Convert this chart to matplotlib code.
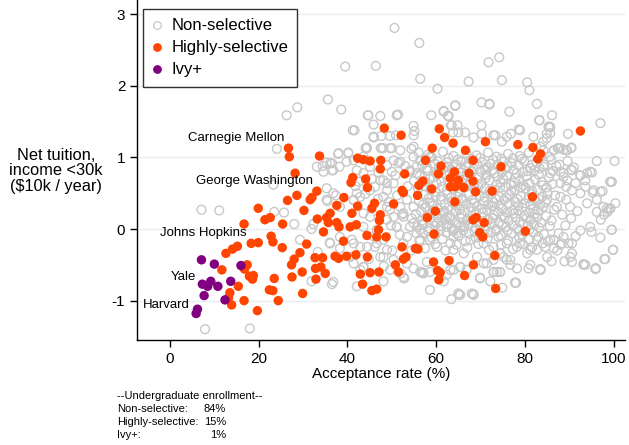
import matplotlib
matplotlib.use("Agg")
import matplotlib.pyplot as plt
from matplotlib.lines import Line2D

plt.rcParams['font.family'] = ['Liberation Sans', 'DejaVu Sans']
plt.rcParams['axes.unicode_minus'] = False

# acceptance rate (%), net tuition for income <30k ($10k/year)
ivy_rate = [7.1, 10.0, 16.0, 7.3, 9.2, 8.5, 10.8, 13.7, 7.7, 12.4, 6.2, 5.9]
ivy_tuition = [-0.43, -0.49, -0.51, -0.77, -0.73, -0.80, -0.80, -0.73, -0.93, -0.99, -1.12, -1.18]

highly_selective = [
    (26.7, 1.13), (26.9, 1.01), (33.7, 1.02), (28.2, 0.78), (33.1, 0.53), (32.0, 0.44),
    (31.6, 0.41), (28.6, 0.47), (26.5, 0.40), (39.2, 0.44), (37.6, 0.33), (19.9, 0.29),
    (21.4, 0.13), (22.6, 0.16), (16.7, 0.07), (25.4, 0.07), (30.2, 0.26), (33.2, 0.14),
    (36.1, 0.22), (35.3, 0.16), (35.7, 0.09), (37.6, 0.09), (38.1, 0.03), (34.6, -0.04),
    (22.8, -0.10), (23.2, -0.18), (18.3, -0.20), (19.9, -0.19), (25.3, -0.26), (30.8, -0.21),
    (29.3, -0.33), (39.1, -0.17), (15.2, -0.24), (14.1, -0.28), (12.6, -0.34), (11.7, -0.57),
    (17.4, -0.50), (16.8, -0.56), (17.9, -0.66), (18.8, -0.65), (18.6, -0.70), (15.4, -0.80),
    (13.5, -0.89), (13.2, -0.96), (13.9, -1.06), (16.7, -1.00), (19.7, -1.14), (22.4, -0.85),
    (23.2, -0.86), (24.4, -1.00), (23.5, -0.69), (27.5, -0.67), (28.0, -0.42), (27.4, -0.50),
    (29.8, -0.60), (29.9, -0.90), (32.7, -0.40), (34.4, -0.40), (32.8, -0.55), (34.0, -0.53),
    (35.0, -0.62), (32.9, -0.70), (37.2, -0.38), (38.0, -0.41), (39.8, -0.38),
    (48.3, 1.41), (52.1, 1.31), (60.7, 1.40), (61.9, 1.28), (63.8, 1.20), (66.6, 1.10),
    (68.3, 0.96), (71.1, 1.22), (78.4, 1.18), (81.8, 1.14), (83.5, 1.05), (82.9, 0.98),
    (92.5, 1.37), (74.6, 0.87), (72.6, 0.53), (81.7, 0.45), (57.6, 0.96), (59.1, 1.13),
    (61.1, 0.88), (60.5, 0.77), (57.0, 0.67), (56.1, 0.61), (59.0, 0.56), (55.8, 0.47),
    (52.9, 0.77), (52.3, 0.54), (52.6, 0.51), (50.4, 0.35), (47.5, 0.96), (47.4, 0.84),
    (44.1, 0.70), (44.5, 0.58), (42.3, 0.99), (43.6, 0.97), (45.1, 0.95), (41.2, 0.72),
    (40.8, 0.65), (46.1, 0.36), (45.5, 0.29), (42.3, 0.32), (41.0, 0.22), (47.4, 0.20),
    (47.2, 0.12), (47.0, -0.01), (48.7, -0.11), (46.6, -0.11), (44.4, -0.09), (42.0, 0.06),
    (40.6, 0.03), (63.2, 0.71), (64.1, 0.80), (65.0, 0.68), (66.2, 0.58), (64.3, 0.59),
    (63.2, 0.59), (67.4, 0.78), (68.3, 0.67), (68.9, 0.52), (64.2, 0.38), (59.8, 0.25),
    (58.0, 0.16), (68.3, 0.13), (69.0, 0.16), (70.8, 0.09), (69.8, -0.05), (70.5, -0.11),
    (80.1, -0.03), (59.5, -0.07), (52.3, -0.25), (55.3, -0.27), (55.9, -0.28), (53.2, -0.39),
    (52.6, -0.42), (41.9, -0.36), (44.5, -0.39), (59.4, -0.46), (62.9, -0.44), (60.3, -0.58),
    (60.9, -0.61), (60.6, -0.71), (66.4, -0.65), (68.4, -0.50), (73.2, -0.37), (73.4, -0.83),
    (50.8, -0.50), (51.5, -0.60), (42.9, -0.63), (45.1, -0.61), (47.1, -0.60), (43.4, -0.77),
    (45.5, -0.86), (46.6, -0.84),
]

non_selective = [
    # sparse outer points
    (50.6, 2.81), (56.2, 2.60), (39.5, 2.27), (46.4, 2.28), (56.4, 2.10), (71.8, 2.33),
    (74.2, 2.40), (74.8, 2.08), (67.3, 2.06), (80.5, 2.05), (81.0, 1.94), (60.3, 1.96),
    (35.6, 1.81), (28.7, 1.70), (26.3, 1.59), (38.6, 1.67), (70.2, 1.77), (72.0, 1.74),
    (64.3, 1.72), (82.7, 1.75), (76.5, 1.64), (61.7, 1.65), (62.8, 1.58), (58.9, 1.59),
    (51.1, 1.59), (47.4, 1.58), (44.6, 1.59), (86.1, 1.59), (97.0, 1.48), (83.2, 1.52),
    (70.2, 1.45), (63.3, 1.45), (64.8, 1.45), (45.9, 1.46), (41.6, 1.38), (54.9, 1.44),
    (55.1, 1.37), (78.6, 1.39), (76.8, 1.33), (85.7, 1.42), (89.7, 1.33), (84.9, 1.33),
    (73.3, 1.31), (45.9, 1.29), (47.6, 1.30), (50.9, 1.31), (24.1, 1.12), (37.9, 1.05),
    (40.2, 1.06), (44.1, 1.13), (47.9, 1.13), (49.6, 1.13), (54.4, 1.12), (34.4, 0.88),
    (36.1, 0.92), (38.2, 0.87), (33.1, 0.87), (36.5, 0.82), (34.6, 0.80), (23.3, 0.62),
    (35.3, 0.57), (37.4, 0.47), (35.5, 0.39), (7.1, 0.27), (11.1, 0.26), (23.5, 0.24),
    (25.7, 0.23), (28.0, 0.07), (31.9, 0.00), (32.3, 0.07), (29.3, -0.15), (33.3, -0.32),
    (31.9, -0.73), (36.5, -0.77), (36.0, -0.19), (38.3, -0.27), (38.3, -0.11), (7.9, -1.40),
    (18.0, -1.39), (63.4, -0.98), (65.2, -0.92), (68.4, -0.92), (69.9, -0.68), (73.0, -0.60),
    (74.4, -0.60), (78.0, -0.75), (74.9, -0.82), (83.5, -0.56), (96.0, -0.55), (93.2, -0.49),
    (90.6, -0.46), (98.1, -0.42), (99.8, -0.29), (99.5, -0.01), (97.0, -0.12), (99.3, 0.66),
    (100.2, 0.95), (96.2, 0.95), (100.4, 0.36), (99.3, 0.29), (97.5, 0.53), (95.3, 0.51),
    (95.1, 0.79), (94.0, 0.78), (92.5, 0.75), (90.4, 0.83), (88.7, 0.78), (87.4, 1.13),
    (88.7, 1.11), (90.4, 1.13), (52.8, -0.69), (52.0, -0.62), (57.1, -0.61),
    # right-hand side of the cloud
    (85.3, 1.43), (85.7, 1.34), (84.9, 1.27), (84.1, 1.22), (83.5, 1.15), (84.2, 1.10),
    (86.5, 1.10), (88.0, 1.13), (89.3, 1.10), (90.5, 1.14), (85.6, 1.01), (84.2, 0.87),
    (85.7, 0.78), (88.0, 0.80), (90.6, 0.82), (88.7, 0.73), (89.5, 0.68), (88.0, 0.64),
    (89.3, 0.59), (90.6, 0.54), (92.5, 0.75), (94.7, 0.80), (93.6, 0.68), (91.4, 0.64),
    (92.5, 0.50), (93.6, 0.59), (95.5, 0.54), (97.0, 0.52), (97.7, 0.31), (99.6, 0.66),
    (94.0, 0.36), (96.2, 0.41), (98.5, 0.29), (98.9, 0.27), (96.2, 0.24), (88.0, 0.45),
    (89.3, 0.41), (90.2, 0.31), (87.2, 0.31), (85.0, 0.41), (85.1, 0.50), (99.6, -0.01),
    (97.1, 0.13), (97.8, 0.20), (98.6, 0.24), (94.7, 0.03), (95.0, -0.04), (92.5, -0.02),
    (91.4, -0.10), (90.6, -0.20), (90.6, -0.34), (93.6, -0.50), (95.9, -0.56), (97.9, -0.42),
    (99.9, -0.29), (88.0, -0.22), (89.8, -0.20), (88.7, -0.11), (87.6, -0.06), (85.7, -0.15),
    (86.5, -0.27), (85.0, -0.39), (83.5, -0.57), (81.2, -0.50), (80.8, -0.55), (77.8, -0.75),
    (74.4, -0.60), (72.9, -0.60), (69.9, -0.69), (68.4, -0.91), (65.4, -0.92), (76.7, -0.50),
    (75.2, -0.39), (74.4, -0.34), (72.9, -0.43), (71.4, -0.48), (80.5, -0.34), (82.7, -0.29),
    (78.9, -0.20),
    # upper and lower edges of the cloud
    (44.7, 1.59), (51.4, 1.60), (61.7, 1.64), (62.6, 1.58), (64.3, 1.73), (72.0, 1.75),
    (83.3, 1.52), (85.6, 1.43), (41.2, 1.38), (63.5, 1.45), (54.9, 1.31), (63.8, 1.35),
    (65.0, 1.35), (66.5, 1.35), (68.4, 1.28), (70.3, 1.33), (72.9, 1.31), (74.8, 1.22),
    (75.9, 1.29), (78.9, 1.38), (81.9, 1.29), (87.7, 1.13), (89.5, 1.10), (86.5, 1.10),
    (99.2, 0.66), (44.4, 1.13), (48.0, 1.13), (50.0, 1.13), (51.9, 1.10), (54.9, 1.15),
    (45.9, 1.28), (49.6, 1.30), (43.6, 1.01), (50.4, 0.96), (51.5, 0.92), (54.9, 1.01),
    (55.6, 0.87), (54.1, 0.80), (50.8, 0.75), (48.1, 0.68), (48.9, 0.64), (46.2, 0.59),
    (42.1, 0.50), (41.4, 0.40), (48.1, 0.45), (49.6, 0.27), (51.9, 0.31), (52.3, 0.20),
    (54.5, 0.15), (51.1, 0.03), (54.1, 0.03), (55.6, -0.06), (57.1, 0.06), (59.0, 0.36),
    (61.7, 0.22), (62.4, 0.03), (64.7, -0.06), (66.2, 0.03), (58.6, -0.15), (60.2, -0.25),
    (63.2, -0.20), (63.9, -0.29), (66.2, -0.34), (67.7, -0.15), (70.7, -0.20), (72.9, -0.25),
    (75.9, -0.20), (75.9, -0.43), (74.4, -0.34), (78.2, -0.25), (81.2, -0.29), (82.7, -0.15),
    (84.6, -0.25), (86.5, -0.15), (88.3, -0.20), (90.2, -0.39), (93.2, -0.50), (95.9, -0.55),
    (83.5, -0.57), (78.2, -0.55), (76.7, -0.43), (70.7, -0.48), (69.2, -0.39), (65.4, -0.53),
    (63.2, -0.57), (57.9, -0.46), (56.8, -0.60), (52.6, -0.67), (49.6, -0.57), (48.1, -0.39),
    (46.2, -0.25), (42.9, -0.25), (41.0, -0.15), (40.6, -0.39), (43.6, -0.53), (42.1, -0.80),
    (48.1, -0.73), (58.6, -0.85), (61.7, -0.73), (65.0, -0.90), (68.0, -0.90), (72.2, -0.73),
    (73.7, -0.60), (77.8, -0.75),
    # left part of the cloud
    (38.0, 1.06), (40.2, 1.07), (44.3, 1.14), (47.5, 1.13), (56.0, 1.07), (35.3, 0.93),
    (36.8, 0.82), (36.5, 0.92), (42.1, 0.82), (43.6, 0.78), (39.8, 0.94), (41.4, 0.96),
    (45.1, 0.87), (48.9, 0.89), (50.0, 0.80), (51.9, 0.94), (56.4, 0.96), (58.6, 1.01),
    (54.1, 0.82), (55.6, 0.78), (57.9, 0.82), (60.2, 0.78), (62.4, 0.87), (50.4, 0.64),
    (47.4, 0.68), (48.9, 0.54), (45.1, 0.54), (42.9, 0.45), (41.4, 0.41), (35.3, 0.41),
    (36.8, 0.50), (38.3, 0.31), (53.4, 0.41), (54.9, 0.31), (48.9, 0.31), (43.6, 0.22),
    (45.1, 0.17), (50.4, 0.17), (52.6, 0.22), (36.1, -0.20), (41.4, -0.20), (44.4, -0.25),
    (46.6, -0.20), (48.9, -0.29), (47.4, -0.39), (50.4, -0.43), (53.4, -0.48), (54.9, -0.55),
    (56.4, -0.60), (58.6, -0.60), (62.4, -0.64), (63.9, -0.57), (65.4, -0.53), (66.9, -0.57),
    (57.1, -0.62), (41.4, -0.48), (43.6, -0.53), (42.9, -0.57), (36.8, -0.74), (48.9, 0.13),
    (51.1, 0.03), (52.6, 0.17), (54.9, 0.08), (56.4, -0.01), (60.2, 0.08), (62.4, 0.17),
    (63.9, -0.01), (65.4, 0.03), (53.4, -0.11), (56.4, -0.15), (46.6, -0.01), (43.6, 0.03),
    (48.1, -0.15), (52.6, -0.20), (41.8, 0.60), (44.0, 0.49), (46.9, 0.42), (49.3, 0.38),
    (51.2, 0.47), (53.6, 0.60), (55.0, 0.67), (53.0, 0.88), (47.0, 0.79), (45.5, 0.70),
    (42.5, 0.66), (49.8, 0.05), (51.8, -0.08), (45.9, -0.10), (50.1, -0.30), (54.4, -0.30),
    (44.8, -0.42), (48.2, -0.52),
    # dense core
    (58.2, 1.04), (61.5, 1.08), (63.9, 1.02), (66.8, 1.06), (69.1, 1.03), (71.7, 1.07),
    (73.6, 1.01), (76.2, 1.05), (78.8, 1.02), (80.9, 1.07), (83.7, 1.03), (57.6, 0.97),
    (60.3, 0.95), (62.8, 0.99), (65.7, 0.94), (67.9, 0.98), (70.4, 0.93), (72.8, 0.97),
    (75.1, 0.94), (77.3, 0.99), (79.8, 0.95), (82.6, 0.93), (85.9, 0.97), (56.8, 0.89),
    (59.7, 0.91), (61.9, 0.86), (64.6, 0.90), (66.7, 0.87), (69.2, 0.91), (71.3, 0.86),
    (73.9, 0.90), (76.1, 0.87), (78.6, 0.89), (81.2, 0.85), (84.4, 0.90), (87.1, 0.88),
    (58.1, 0.82), (60.8, 0.80), (63.4, 0.83), (65.8, 0.79), (68.4, 0.84), (70.1, 0.80),
    (72.6, 0.82), (74.8, 0.79), (77.4, 0.83), (79.6, 0.80), (82.1, 0.82), (86.3, 0.81),
    (56.3, 0.74), (59.4, 0.72), (62.1, 0.76), (64.4, 0.73), (66.9, 0.75), (69.6, 0.72),
    (71.4, 0.76), (73.8, 0.73), (75.9, 0.75), (77.9, 0.71), (80.4, 0.74), (83.1, 0.76),
    (85.4, 0.72), (57.4, 0.66), (60.1, 0.64), (62.7, 0.68), (65.2, 0.63), (67.6, 0.66),
    (70.2, 0.64), (72.0, 0.68), (74.5, 0.65), (76.8, 0.62), (78.7, 0.67), (81.0, 0.64),
    (83.8, 0.66), (86.2, 0.63), (55.9, 0.57), (58.8, 0.55), (61.3, 0.59), (63.8, 0.56),
    (66.4, 0.58), (68.7, 0.54), (71.0, 0.57), (73.3, 0.55), (75.6, 0.59), (77.7, 0.54),
    (80.2, 0.57), (82.8, 0.55), (84.9, 0.58), (57.2, 0.48), (59.9, 0.46), (62.5, 0.49),
    (64.9, 0.45), (67.3, 0.48), (69.8, 0.46), (72.2, 0.50), (74.3, 0.45), (76.5, 0.48),
    (79.1, 0.46), (81.5, 0.49), (83.9, 0.45), (86.8, 0.47), (56.1, 0.39), (58.5, 0.37),
    (61.1, 0.41), (63.6, 0.38), (66.0, 0.40), (68.5, 0.36), (70.7, 0.39), (73.0, 0.37),
    (75.3, 0.41), (77.8, 0.38), (80.0, 0.36), (82.4, 0.40), (84.7, 0.37), (57.7, 0.30),
    (60.4, 0.28), (62.9, 0.31), (65.3, 0.27), (67.8, 0.30), (70.3, 0.28), (72.6, 0.32),
    (74.9, 0.29), (77.1, 0.26), (79.5, 0.30), (81.8, 0.28), (84.1, 0.31), (86.6, 0.27),
    (55.4, 0.21), (58.0, 0.19), (60.9, 0.22), (63.2, 0.18), (65.7, 0.21), (68.1, 0.19),
    (70.5, 0.23), (72.9, 0.20), (75.0, 0.18), (77.5, 0.22), (79.9, 0.19), (82.2, 0.21),
    (84.8, 0.18), (56.9, 0.12), (59.6, 0.10), (62.0, 0.13), (64.5, 0.09), (66.9, 0.12),
    (69.4, 0.10), (71.8, 0.13), (74.2, 0.09), (76.4, 0.12), (78.9, 0.10), (81.3, 0.13),
    (83.6, 0.09), (86.0, 0.12), (55.7, 0.03), (58.4, 0.01), (61.0, 0.04), (63.5, 0.02),
    (66.3, 0.05), (68.8, 0.01), (71.2, 0.04), (73.5, 0.00), (75.8, 0.03), (78.3, 0.01),
    (80.7, 0.05), (83.2, 0.02), (85.6, 0.04), (57.0, -0.06), (59.8, -0.08), (62.3, -0.05),
    (65.0, -0.09), (67.4, -0.06), (69.9, -0.08), (72.3, -0.05), (74.6, -0.09), (77.0, -0.06),
    (79.4, -0.08), (81.9, -0.05), (84.3, -0.07), (56.2, -0.16), (61.4, -0.14), (66.6, -0.17),
    (71.6, -0.13), (76.2, -0.16), (80.9, -0.14), (85.2, -0.17), (57.5, -0.27), (62.1, -0.30),
    (67.0, -0.26), (71.9, -0.29), (77.3, -0.28), (81.6, -0.26), (87.8, 0.90), (89.6, 0.95),
    (91.0, 0.86), (88.4, 0.20), (90.4, 0.15), (89.1, 0.05), (91.8, 0.25), (87.3, -0.30),
    (86.0, -0.45), (88.9, -0.45),
    # dense core, in between the rows above
    (59.0, 1.00), (62.4, 0.93), (64.9, 0.97), (67.3, 0.92), (69.9, 0.99), (72.2, 0.91),
    (74.7, 0.98), (77.0, 0.92), (79.3, 0.98), (81.7, 0.90), (57.9, 0.85), (60.6, 0.87),
    (63.0, 0.79), (65.5, 0.85), (67.9, 0.80), (70.9, 0.84), (73.1, 0.78), (75.6, 0.84),
    (78.1, 0.78), (80.6, 0.81), (83.3, 0.85), (58.5, 0.70), (61.2, 0.67), (63.6, 0.71),
    (66.0, 0.69), (68.6, 0.62), (71.1, 0.71), (73.6, 0.62), (75.1, 0.70), (77.6, 0.65),
    (79.7, 0.61), (82.3, 0.69), (57.3, 0.60), (59.9, 0.52), (62.4, 0.54), (65.0, 0.52),
    (67.2, 0.61), (69.5, 0.59), (72.0, 0.53), (74.4, 0.58), (76.9, 0.53), (79.0, 0.58),
    (81.6, 0.53), (84.0, 0.61), (58.3, 0.43), (61.1, 0.45), (63.4, 0.44), (65.9, 0.43),
    (68.2, 0.41), (70.9, 0.44), (73.5, 0.42), (75.8, 0.44), (78.3, 0.42), (80.8, 0.43),
    (83.1, 0.42), (57.0, 0.34), (59.3, 0.33), (61.9, 0.35), (64.4, 0.33), (66.8, 0.35),
    (69.2, 0.32), (71.7, 0.34), (74.1, 0.33), (76.3, 0.35), (78.6, 0.33), (81.2, 0.34),
    (83.4, 0.34), (56.6, 0.25), (59.1, 0.24), (61.8, 0.25), (64.3, 0.24), (66.5, 0.26),
    (69.0, 0.23), (71.5, 0.26), (73.9, 0.24), (76.0, 0.23), (78.5, 0.25), (80.9, 0.23),
    (83.0, 0.26), (57.8, 0.16), (60.4, 0.15), (63.0, 0.15), (65.4, 0.16), (67.8, 0.14),
    (70.3, 0.16), (72.8, 0.15), (75.4, 0.15), (77.9, 0.16), (80.3, 0.15), (82.7, 0.16),
    (56.9, 0.07), (59.7, 0.05), (62.4, 0.07), (64.9, 0.06), (67.4, 0.07), (69.9, 0.05),
    (72.5, 0.07), (74.9, 0.06), (77.2, 0.05), (79.6, 0.07), (82.1, 0.06), (58.2, -0.03),
    (60.8, -0.02), (63.8, -0.03), (66.1, -0.02), (68.6, -0.03), (70.9, -0.01), (73.4, -0.03),
    (76.1, -0.02), (78.6, -0.03), (81.0, -0.01), (59.0, -0.12), (63.9, -0.11), (68.9, -0.12),
    (74.0, -0.11), (78.7, -0.12), (83.0, -0.11), (59.8, -0.21), (64.6, -0.22), (69.5, -0.21),
    (74.6, -0.22), (79.5, -0.21), (84.0, -0.20),
]

# labelled schools: text, anchor (right edge of text) in data units
labels = ['Carnegie Mellon', 'George Washington', 'Johns Hopkins', 'Yale', 'Harvard']
label_x = [25.7, 32.2, 17.3, 5.9, 4.4]
label_y = [1.27, 0.67, -0.05, -0.67, -1.06]

share_names = ['Non-selective:', 'Highly-selective:', 'Ivy+:']
share_values = ['84%', '15%', '1%']

GREY = '#c8c8c8'
ORANGE = '#ff4500'
PURPLE = '#800080'

fig = plt.figure(figsize=(6.29, 4.45), dpi=100)
ax = fig.add_axes([0.218, 0.236, 0.776, 0.764])

ns_x = [p[0] for p in non_selective]
ns_y = [p[1] for p in non_selective]
hs_x = [p[0] for p in highly_selective]
hs_y = [p[1] for p in highly_selective]

ax.scatter(ns_x, ns_y, s=40, facecolors='none', edgecolors=GREY, linewidths=1.0, zorder=2)
ax.scatter(hs_x, hs_y, s=46, color=ORANGE, edgecolors='none', zorder=3)
ax.scatter(ivy_rate, ivy_tuition, s=46, color=PURPLE, edgecolors='none', zorder=4)

for t, x, y in zip(labels, label_x, label_y):
    ax.text(x, y, t, ha='right', va='center', fontsize=9.5, zorder=5)

ax.set_xlim(-7.4, 102.6)
ax.set_ylim(-1.55, 3.2)
ax.set_xticks([0, 20, 40, 60, 80, 100])
ax.set_yticks([-1, 0, 1, 2, 3])
ax.grid(axis='y', color='#e6eef0', linewidth=1.0, zorder=0)
ax.set_axisbelow(True)
for side in ['top', 'right']:
    ax.spines[side].set_visible(False)
ax.spines['left'].set_linewidth(1.0)
ax.spines['bottom'].set_linewidth(1.0)
ax.tick_params(axis='both', direction='out', length=5, width=1.0, labelsize=11)
ax.set_xlabel('Acceptance rate (%)', fontsize=11, labelpad=1)

fig.text(0.089, 0.616, 'Net tuition,\nincome <30k\n($10k / year)', ha='center',
         va='center', fontsize=11.8, linespacing=1.05)

handles = [
    Line2D([], [], marker='o', linestyle='none', markersize=5.5, markerfacecolor='none',
           markeredgecolor=GREY, markeredgewidth=0.9, label='Non-selective'),
    Line2D([], [], marker='o', linestyle='none', markersize=6.3, color=ORANGE,
           markeredgecolor='none', label='Highly-selective'),
    Line2D([], [], marker='o', linestyle='none', markersize=6.3, color=PURPLE,
           markeredgecolor='none', label='Ivy+'),
]
leg = ax.legend(handles=handles, loc='upper left', bbox_to_anchor=(0.012, 0.973),
                borderaxespad=0, frameon=True, fancybox=False, fontsize=12,
                handlelength=0.6, handletextpad=0.55, labelspacing=0.42,
                borderpad=0.55)
leg.get_frame().set_edgecolor('black')
leg.get_frame().set_linewidth(1.0)

# enrollment shares note under the axis
note_x = 117 / 629
fig.text(note_x, 1 - 396 / 445, '--Undergraduate enrollment--', fontsize=8, va='center')
for i, (n, v) in enumerate(zip(share_names, share_values)):
    yy = 1 - (409 + 13 * i) / 445
    fig.text(note_x, yy, n, fontsize=8, va='center')
    fig.text(226 / 629, yy, v, fontsize=8, va='center', ha='right')

fig.savefig('out.png', dpi=100)
